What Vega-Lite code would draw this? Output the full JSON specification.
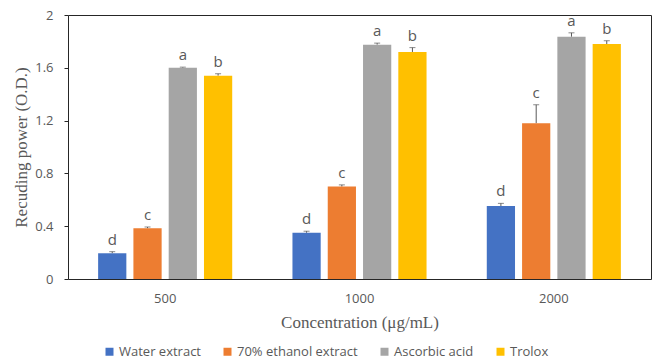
{
  "$schema": "https://vega.github.io/schema/vega-lite/v6.json",
  "autosize": "none",
  "width": 583,
  "height": 264,
  "padding": {"left": 68, "top": 15, "right": 2, "bottom": 82},
  "background": "white",
  "config": {
    "view": {"stroke": "#262626", "strokeWidth": 1},
    "axis": {"labelFont": "Open Sans", "labelColor": "#595959", "labelFontSize": 13, "titleFont": "Liberation Serif", "titleColor": "#595959", "titleFontSize": 17, "titleFontWeight": "normal", "grid": false}
  },
  "data": {
    "values": [
      {"conc": "500", "sample": "Water extract", "value": 0.195, "upper": 0.207, "letter": "d"},
      {"conc": "500", "sample": "70% ethanol extract", "value": 0.384, "upper": 0.394, "letter": "c"},
      {"conc": "500", "sample": "Ascorbic acid", "value": 1.60, "upper": 1.605, "letter": "a"},
      {"conc": "500", "sample": "Trolox", "value": 1.54, "upper": 1.555, "letter": "b"},
      {"conc": "1000", "sample": "Water extract", "value": 0.35, "upper": 0.362, "letter": "d"},
      {"conc": "1000", "sample": "70% ethanol extract", "value": 0.70, "upper": 0.713, "letter": "c"},
      {"conc": "1000", "sample": "Ascorbic acid", "value": 1.775, "upper": 1.787, "letter": "a"},
      {"conc": "1000", "sample": "Trolox", "value": 1.72, "upper": 1.753, "letter": "b"},
      {"conc": "2000", "sample": "Water extract", "value": 0.553, "upper": 0.573, "letter": "d"},
      {"conc": "2000", "sample": "70% ethanol extract", "value": 1.18, "upper": 1.32, "letter": "c"},
      {"conc": "2000", "sample": "Ascorbic acid", "value": 1.835, "upper": 1.865, "letter": "a"},
      {"conc": "2000", "sample": "Trolox", "value": 1.78, "upper": 1.805, "letter": "b"}
    ]
  },
  "encoding": {
    "x": {
      "field": "conc", "type": "nominal", "sort": ["500", "1000", "2000"],
      "scale": {"paddingInner": 0.31, "paddingOuter": 0.155},
      "axis": {"title": "Concentration (μg/mL)", "labelAngle": 0, "ticks": false, "domain": false, "labelPadding": 13, "titlePadding": 9}
    },
    "xOffset": {
      "field": "sample", "type": "nominal",
      "sort": ["Water extract", "70% ethanol extract", "Ascorbic acid", "Trolox"],
      "scale": {"paddingInner": 0.2, "paddingOuter": 0}
    }
  },
  "layer": [
    {
      "mark": {"type": "rule", "color": "#595959", "strokeWidth": 1},
      "encoding": {
        "y": {"field": "value", "type": "quantitative"},
        "y2": {"field": "upper"}
      }
    },
    {
      "mark": {"type": "tick", "color": "#595959", "size": 6, "thickness": 1},
      "encoding": {
        "y": {"field": "upper", "type": "quantitative"}
      }
    },
    {
      "mark": {"type": "bar"},
      "encoding": {
        "y": {
          "field": "value", "type": "quantitative",
          "scale": {"domain": [0, 2], "nice": false},
          "axis": {"title": "Recuding power (O.D.)", "values": [0, 0.4, 0.8, 1.2, 1.6, 2], "format": "~g", "tickSize": 4, "tickColor": "#262626", "domain": false, "labelPadding": 11, "titlePadding": 4}
        },
        "color": {
          "field": "sample", "type": "nominal",
          "sort": ["Water extract", "70% ethanol extract", "Ascorbic acid", "Trolox"],
          "scale": {"domain": ["Water extract", "70% ethanol extract", "Ascorbic acid", "Trolox"], "range": ["#4472C4", "#ED7D31", "#A5A5A5", "#FFC000"]},
          "legend": {"title": null, "orient": "none", "legendX": 35, "legendY": 330, "direction": "horizontal", "symbolType": "square", "symbolSize": 64, "symbolStrokeWidth": 0, "labelFont": "Open Sans", "labelFontSize": 13, "labelColor": "#595959", "columnPadding": 20, "labelOffset": 3}
        }
      }
    },
    {
      "mark": {"type": "text", "baseline": "bottom", "dy": -4, "font": "Open Sans", "fontSize": 15, "color": "#595959"},
      "encoding": {
        "y": {"field": "upper", "type": "quantitative"},
        "text": {"field": "letter"}
      }
    }
  ]
}
